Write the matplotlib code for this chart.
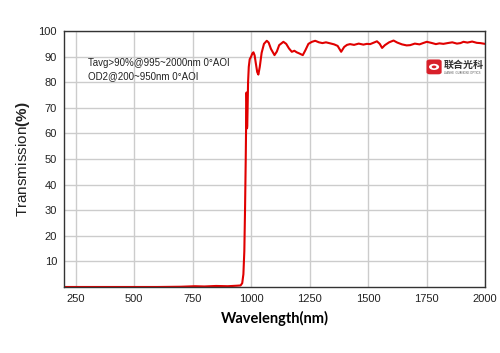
import numpy as np
import matplotlib
matplotlib.use('Agg')
import matplotlib.pyplot as plt
from matplotlib.patches import FancyBboxPatch, Circle

plt.rcParams['font.family'] = ['Liberation Sans', 'DejaVu Sans']
plt.rcParams['mathtext.fontset'] = 'custom'
plt.rcParams['mathtext.bf'] = 'Liberation Sans:bold'
plt.rcParams['mathtext.rm'] = 'Liberation Sans'

# Datos (comprimento de onda em nm, transmissão em %)
wavelength = [200, 600, 700, 760, 800, 850, 900, 940, 955, 962, 967, 971, 974,
              977, 979, 980.5, 981.5, 982.5, 983.5, 985, 987, 990, 994, 1000,
              1005, 1010, 1015, 1020, 1026, 1031, 1037, 1045, 1055, 1067, 1075,
              1085, 1100, 1110, 1120, 1138, 1150, 1162, 1174, 1185, 1195, 1205,
              1214, 1221, 1232, 1245, 1260, 1274, 1290, 1305, 1320, 1338, 1355,
              1370, 1385, 1398, 1410, 1423, 1440, 1460, 1480, 1495, 1509, 1525,
              1538, 1550, 1560, 1572, 1590, 1609, 1625, 1645, 1665, 1680, 1700,
              1720, 1735, 1751, 1770, 1790, 1805, 1822, 1840, 1860, 1880, 1895,
              1908, 1925, 1945, 1965, 1980, 2000]
transmission = [0.0, 0.0, 0.1, 0.3, 0.2, 0.4, 0.3, 0.5, 0.6, 1.5, 5, 14, 30,
                50, 66, 76, 72, 62, 63, 70, 80, 86, 89, 90,
                91.2, 91.7, 90.5, 87.5, 84, 83, 86, 91.5, 95, 96.2, 95.5,
                93, 90.6, 92, 94.5, 95.8, 95, 93.2, 91.9, 92.3, 91.7, 91.3,
                90.9, 90.6, 92.5, 95, 95.8, 96.2, 95.6, 95.3, 95.6, 95.2, 94.8,
                94.2, 91.9, 93.8, 94.6, 94.9, 94.6, 95.1, 94.7, 95.0, 94.9, 95.5,
                96.0, 95.0, 93.4, 94.5, 95.6, 96.3, 95.5, 94.8, 94.4, 94.5, 95.1,
                94.8, 95.3, 95.8, 95.4, 94.9, 95.2, 95.0, 95.3, 95.6, 95.1, 95.3,
                95.8, 95.5, 95.9, 95.4, 95.3, 95.0]

xticks = [250, 500, 750, 1000, 1250, 1500, 1750, 2000]
yticks = [10, 20, 30, 40, 50, 60, 70, 80, 90, 100]

fig = plt.figure(figsize=(5.0, 3.53), dpi=100)
ax = fig.add_axes([0.128, 0.187, 0.842, 0.725])

ax.plot(wavelength, transmission, color='#e00000', lw=1.5)

ax.set_xlim(200, 2000)
ax.set_ylim(0, 100)
ax.set_xticks(xticks)
ax.set_yticks(yticks)
ax.tick_params(axis='both', length=0, labelsize=8, colors='#222222', pad=5)
ax.grid(True, color='#cccccc', lw=1)
ax.set_axisbelow(True)
for s in ax.spines.values():
    s.set_color('#333333')
    s.set_linewidth(1)

ax.set_xlabel('Wavelength(nm)', fontsize=10.5, fontweight='bold',
              family=['Lato', 'DejaVu Sans'], labelpad=5)
ax.set_ylabel(r'Transmission$\mathbf{(\%)}$', fontsize=11, labelpad=5,
              color='#222222')

ax.text(0.057, 0.875, 'Tavg>90%@995~2000nm 0°AOI', transform=ax.transAxes,
        fontsize=7, color='#222222', va='center')
ax.text(0.057, 0.824, 'OD2@200~950nm 0°AOI', transform=ax.transAxes,
        fontsize=7, color='#222222', va='center')

# logo
box = FancyBboxPatch((0.864, 0.834), 0.03, 0.052, boxstyle='round,pad=0.003,rounding_size=0.008',
                     transform=ax.transAxes, facecolor='#d8202a', edgecolor='none')
ax.add_patch(box)
ax.add_patch(Circle((0.879, 0.86), 0.012, transform=ax.transAxes,
                    facecolor='white', edgecolor='none'))
ax.add_patch(Circle((0.879, 0.86), 0.0055, transform=ax.transAxes,
                    facecolor='#d8202a', edgecolor='none'))
ax.text(0.902, 0.868, '联合光科', transform=ax.transAxes, fontsize=7.2,
        fontweight='bold', family=['Noto Sans CJK SC'], color='#333333', va='center')
ax.text(0.903, 0.836, 'LIANHE  GUANGKE OPTICS', transform=ax.transAxes, fontsize=2,
        color='#555555', va='center')

plt.savefig('out.png', dpi=100)
